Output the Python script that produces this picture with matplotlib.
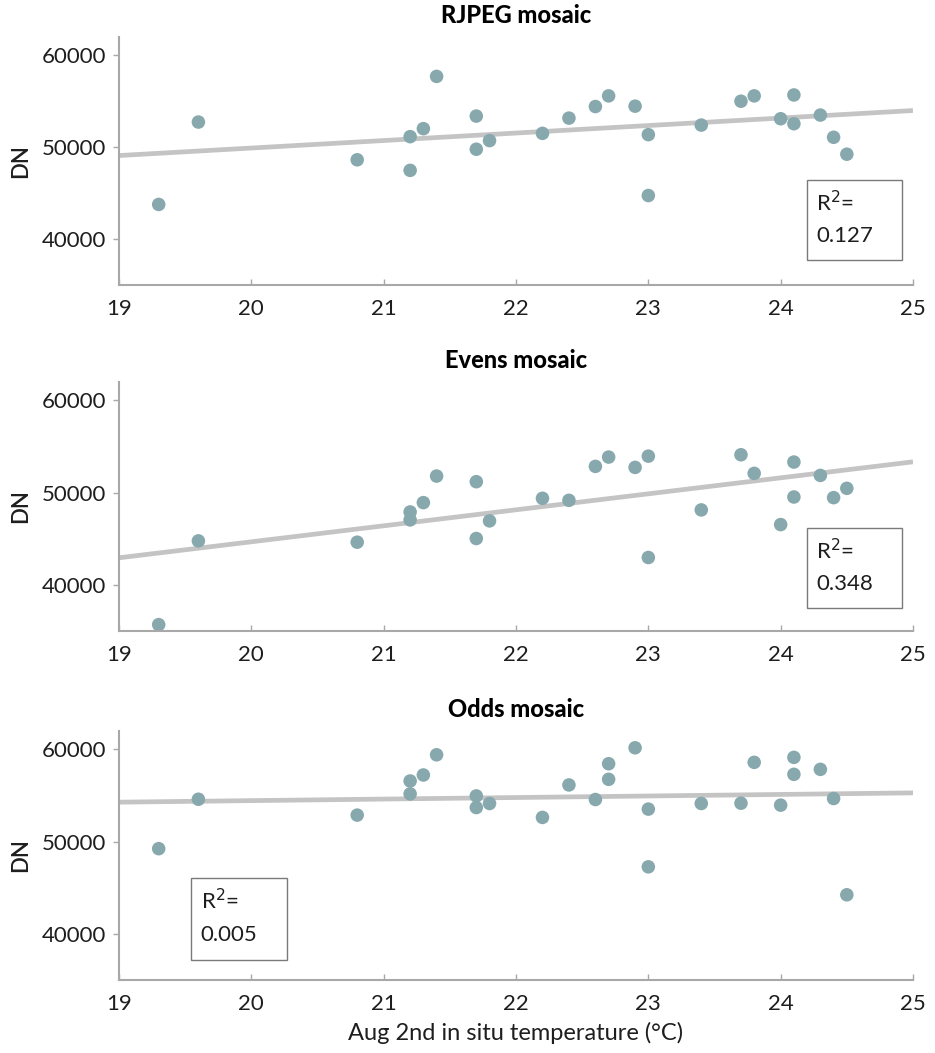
import numpy as np
import matplotlib
matplotlib.use("Agg")
import matplotlib.pyplot as plt
from matplotlib.patches import Rectangle

plt.rcParams['font.family'] = ['Lato', 'DejaVu Sans']

# In situ temperature (°C) and mosaic DN values per point
rjpeg_temp = [19.3, 19.6, 20.8, 21.2, 21.2, 21.3, 21.4, 21.7, 21.7, 21.8, 22.2, 22.4, 22.6,
              22.7, 22.9, 23.0, 23.0, 23.4, 23.7, 23.8, 24.0, 24.1, 24.1, 24.3, 24.4, 24.5]
rjpeg_dn = [43770, 52740, 48630, 51150, 47480, 52020, 57710, 53390, 49780, 50720, 51510, 53170, 54430,
            55590, 54470, 51370, 44740, 52410, 55010, 55590, 53100, 55690, 52560, 53500, 51080, 49240]

evens_temp = [19.3, 19.6, 20.8, 21.2, 21.2, 21.3, 21.4, 21.7, 21.7, 21.8, 22.2, 22.4, 22.6,
              22.7, 22.9, 23.0, 23.0, 23.4, 23.7, 23.8, 24.0, 24.1, 24.1, 24.3, 24.4, 24.5]
evens_dn = [35690, 44770, 44630, 47910, 47050, 48920, 51800, 51190, 45030, 46940, 49390, 49170, 52850,
            53860, 52740, 53960, 42970, 48130, 54110, 52090, 46540, 53320, 49530, 51870, 49460, 50470]

odds_temp = [19.3, 19.6, 20.8, 21.2, 21.2, 21.3, 21.4, 21.7, 21.7, 21.8, 22.2, 22.4, 22.6,
             22.7, 22.7, 22.9, 23.0, 23.0, 23.4, 23.7, 23.8, 24.0, 24.1, 24.1, 24.3, 24.4, 24.5]
odds_dn = [49240, 54600, 52880, 56580, 55180, 57230, 59420, 54960, 53700, 54140, 52630, 56150, 54570,
           58450, 56760, 60180, 53530, 47270, 54140, 54170, 58600, 53960, 59140, 57300, 57840, 54680, 44240]

titles = ["RJPEG mosaic", "Evens mosaic", "Odds mosaic"]
r2_labels = ["0.127", "0.348", "0.005"]
x_ticks = [19, 20, 21, 22, 23, 24, 25]
y_ticks = [40000, 50000, 60000]

panels = [(rjpeg_temp, rjpeg_dn), (evens_temp, evens_dn), (odds_temp, odds_dn)]

W, H = 935, 1053
fig = plt.figure(figsize=(W / 100, H / 100), dpi=100)

# axes extents in pixels: (top, bottom)
rows = [(37, 285), (382, 631), (731, 980)]
left_px, right_px = 119, 913
# R² box extents in axes fractions: (x0, y0, w, h)
boxes = [(0.866, 0.10, 0.12, 0.323), (0.866, 0.092, 0.12, 0.322), (0.091, 0.08, 0.121, 0.33)]

dot_color = "#87a9ae"
line_color = "#c4c4c4"
spine_color = "#a8a8a8"
text_color = "#1e1e1e"

for i, ((tx, dn), (top, bot)) in enumerate(zip(panels, rows)):
    ax = fig.add_axes([left_px / W, 1 - bot / H, (right_px - left_px) / W, (bot - top) / H])
    tx = np.asarray(tx)
    dn = np.asarray(dn)

    slope, intercept = np.polyfit(tx, dn, 1)
    xs = np.array([19, 25])
    ax.plot(xs, slope * xs + intercept, color=line_color, lw=3.4, zorder=1, solid_capstyle='butt')
    ax.scatter(tx, dn, s=95, color=dot_color, edgecolors='none', zorder=2, clip_on=False)

    ax.set_xlim(19, 25)
    ax.set_ylim(35000, 62000)
    ax.set_xticks(x_ticks)
    ax.set_yticks(y_ticks)
    ax.set_xticklabels([str(t) for t in x_ticks])
    ax.set_yticklabels([str(t) for t in y_ticks])

    for s in ("top", "right"):
        ax.spines[s].set_visible(False)
    for s in ("left", "bottom"):
        ax.spines[s].set_color(spine_color)
        ax.spines[s].set_linewidth(1.5)

    ax.tick_params(axis='y', direction='out', length=4, width=1, color=spine_color,
                   labelsize=16, labelcolor=text_color, pad=5)
    ax.tick_params(axis='x', direction='in', length=4, width=1, color=spine_color,
                   labelsize=16, labelcolor=text_color, pad=10)

    ax.set_title(titles[i], fontsize=17, fontweight='black', color='black', pad=10)
    ax.set_ylabel("DN", fontsize=16, fontweight='semibold', color=text_color, labelpad=8)

    bx, by, bw, bh = boxes[i]
    ax.add_patch(Rectangle((bx, by), bw, bh, transform=ax.transAxes, fill=True,
                           facecolor='white', edgecolor='#7a7a7a', lw=1.0, zorder=3))
    ax.text(bx + 0.012, by + bh * 0.72, r"R$^2$=", transform=ax.transAxes, fontsize=16,
            color=text_color, va='center', ha='left', zorder=4)
    ax.text(bx + 0.012, by + bh * 0.30, r2_labels[i], transform=ax.transAxes, fontsize=16,
            color=text_color, va='center', ha='left', zorder=4)

    if i == 2:
        ax.set_xlabel("Aug 2nd in situ temperature (°C)", fontsize=17, color=text_color, labelpad=6)

fig.savefig("out.png", dpi=100, facecolor='white')
